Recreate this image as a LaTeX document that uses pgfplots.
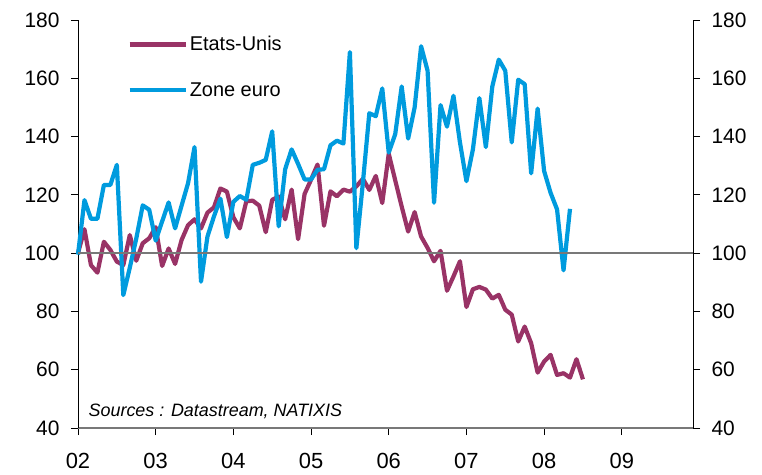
\documentclass[border=0pt]{standalone}
\usepackage{fontspec}
\setmainfont{Liberation Sans}
\usepackage{pgfplots}
\pgfplotsset{compat=1.18}
\definecolor{us}{RGB}{153,51,102}
\definecolor{ez}{RGB}{0,155,222}
\definecolor{refline}{RGB}{120,120,120}

\pgfplotsset{
  common/.style={
    at={(0,0)}, anchor=south west,
    width=615bp, height=408bp, scale only axis,
    xmin=0, xmax=95, ymin=40, ymax=180,
    ytick={40,60,...,180},
    tick align=outside, major tick length=7bp,
    tick style={black, line width=0.8bp},
    axis line style={black, line width=0.8bp, -},
    ticklabel style={font=\fontsize{21}{24}\selectfont},
    /pgf/number format/assume math mode=true,
  }
}

\begin{document}
\begin{tikzpicture}
\useasboundingbox (-78bp,-47bp) rectangle (684bp,428bp);
\begin{axis}[
  common,
  axis x line*=bottom, axis y line*=left,
  x axis line style={refline, line width=1.3bp},
  xtick={0,12,...,84}, xticklabels={02,03,04,05,06,07,08,09},
  xticklabel style={yshift=-15bp, font=\fontsize{22}{24}\selectfont},
  yticklabel style={xshift=-8bp},
  clip=false,
  legend style={draw=none, fill=none, at={(axis description cs:0.075,0.97)}, anchor=north west,
    font=\fontsize{20}{24}\selectfont, row sep=26bp, legend cell align=left},
  legend image code/.code={\draw[#1, line width=4.5bp] (0bp,0bp) -- (56bp,0bp);},
]
\addplot[us, line width=4.2bp, line join=round] coordinates {
(0,100) (1,108.2) (2,95.9) (3,93.3) (4,103.9) (5,101.1) (6,97.1) (7,95.9) (8,106.2) (9,97.4) (10,103.4) (11,105.1)
(12,108.9) (13,95.6) (14,101.6) (15,96.3) (16,104.5) (17,109.6) (18,111.6) (19,108.5) (20,113.9) (21,115.7) (22,122.2) (23,121.1)
(24,112.3) (25,108.5) (26,117.8) (27,118) (28,116.3) (29,107.2) (30,118.3) (31,119.4) (32,111.6) (33,121.8) (34,104.8) (35,120.3)
(36,125.2) (37,130.4) (38,109.4) (39,121.2) (40,119.5) (41,121.8) (42,121.1) (43,122.9) (44,125.5) (45,121.7) (46,126.5) (47,117.2)
(48,134.1) (49,125) (50,116) (51,107.4) (52,114.1) (53,105.7) (54,101.8) (55,97.2) (56,100.8) (57,87.1) (58,92) (59,97.2)
(60,81.5) (61,87.6) (62,88.4) (63,87.5) (64,84.4) (65,85.7) (66,80.6) (67,78.9) (68,69.7) (69,74.8) (70,69.1) (71,59)
(72,62.8) (73,65.1) (74,58.2) (75,58.8) (76,57.3) (77,63.6) (78,56.7)
};
\addlegendentry{Etats-Unis}
\addplot[ez, line width=4.2bp, line join=round] coordinates {
(0,99.5) (1,118.2) (2,111.8) (3,111.8) (4,123.4) (5,123.4) (6,130.3) (7,85.6) (8,95) (9,105) (10,116.4) (11,114.9)
(12,104.3) (13,110.9) (14,117.4) (15,108.5) (16,116.3) (17,124) (18,136.4) (19,90.2) (20,105.7) (21,112.6) (22,118.7) (23,105.5)
(24,117.6) (25,119.6) (26,118.3) (27,130.3) (28,131) (29,132) (30,141.8) (31,109.2) (32,128.8) (33,135.6) (34,130.6) (35,125.3)
(36,125.3) (37,128.6) (38,128.8) (39,137) (40,138.6) (41,137.6) (42,169) (43,101.7) (44,124) (45,148) (46,147) (47,156.5)
(48,134.5) (49,140.8) (50,157.2) (51,139.3) (52,150) (53,171) (54,162.6) (55,117.3) (56,150.8) (57,143.4) (58,154) (59,138)
(60,124.7) (61,135.6) (62,153.2) (63,136.4) (64,157.2) (65,166.4) (66,162.6) (67,138) (68,159.5) (69,158) (70,127.4) (71,149.6)
(72,128.2) (73,120.7) (74,115) (75,94.1) (76,115.2)
};
\addlegendentry{Zone euro}
\addplot[refline, line width=1.3bp, forget plot] coordinates {(0,100) (95,100)};
\node[anchor=base west, font=\itshape\fontsize{18}{20}\selectfont] at (axis cs:1.1,44.1) {Sources : Datastream, NATIXIS};
\end{axis}
\begin{axis}[
  common,
  axis y line*=right, axis x line=none,
  yticklabel style={xshift=8bp},
]
\end{axis}
\end{tikzpicture}
\end{document}
